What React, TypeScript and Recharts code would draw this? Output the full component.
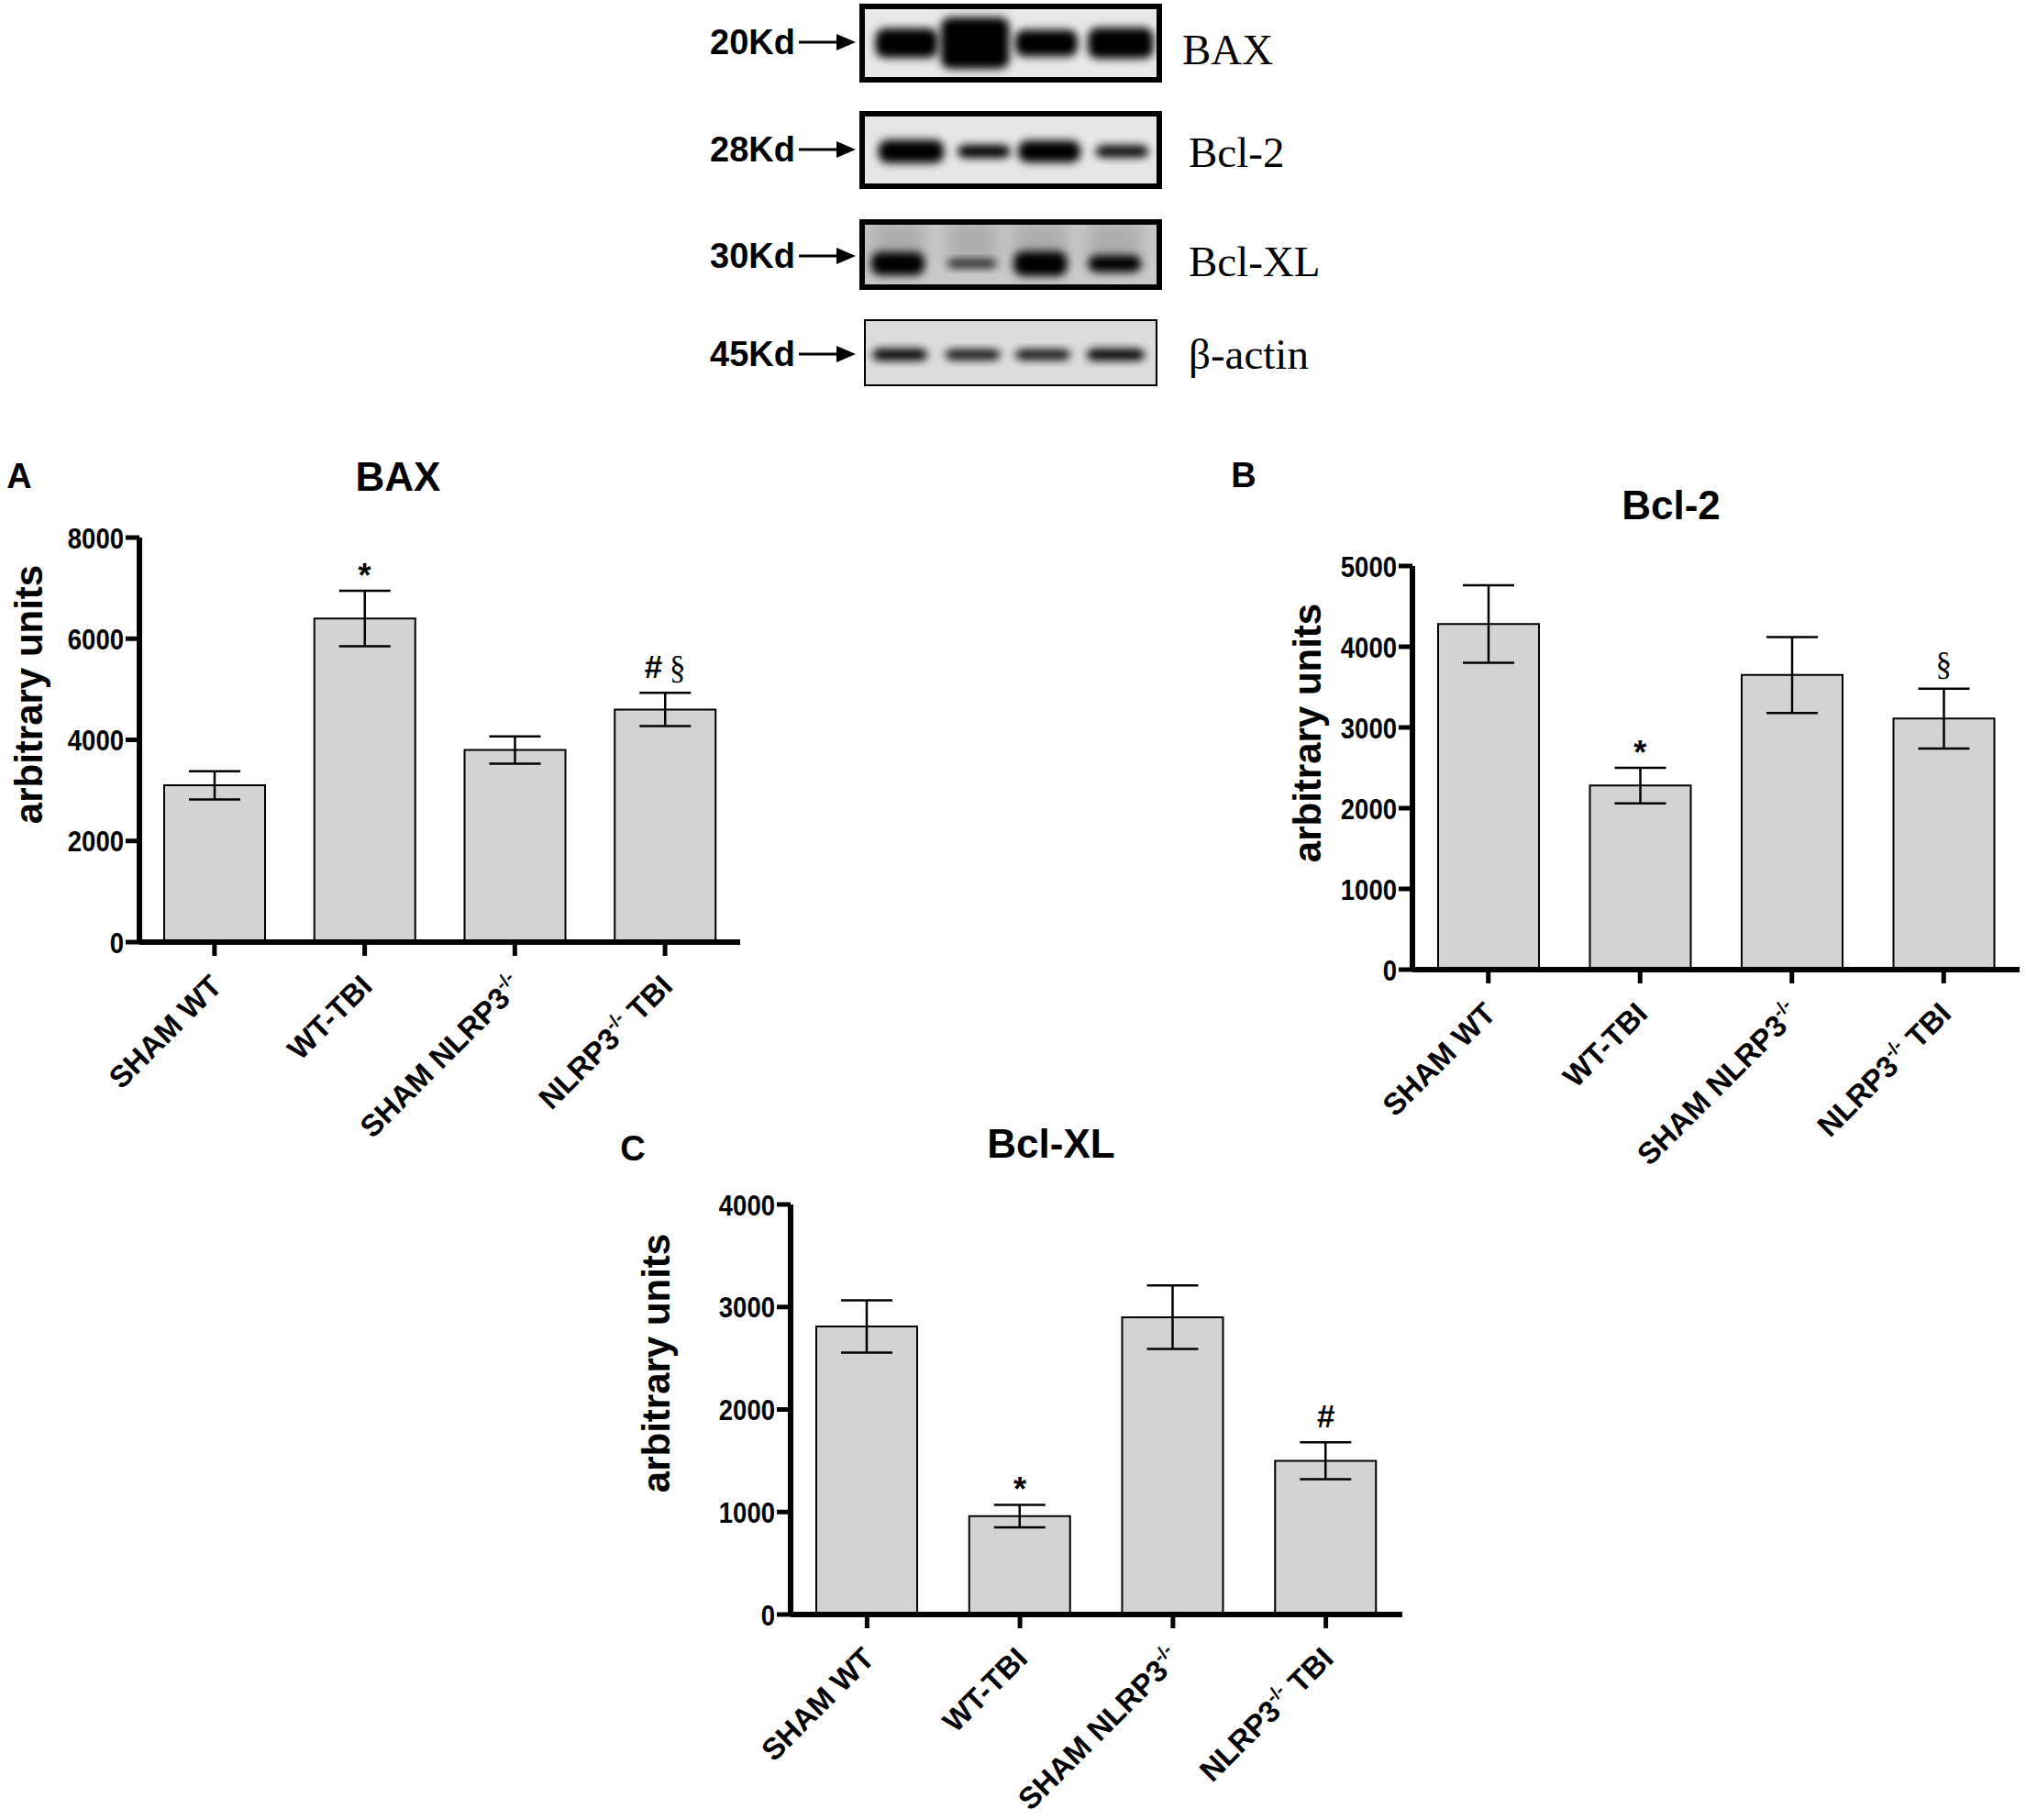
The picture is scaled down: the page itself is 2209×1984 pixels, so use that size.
import React from 'react'
import { ComposedChart, Bar, ErrorBar, Scatter, XAxis, YAxis } from 'recharts'

const groups = ['SHAM WT', 'WT-TBI', 'SHAM NLRP3-/-', 'NLRP3-/- TBI']

const baxMean = [3100, 6400, 3800, 4600]
const baxSem = [280, 550, 270, 330]
const baxMarks = ['', '*', '', '#§']
const baxTicks = [0, 2000, 4000, 6000, 8000]

const bcl2Mean = [4280, 2280, 3650, 3110]
const bcl2Sem = [480, 220, 470, 370]
const bcl2Marks = ['', '*', '', '§']
const bcl2Ticks = [0, 1000, 2000, 3000, 4000, 5000]

const bclxlMean = [2810, 960, 2900, 1500]
const bclxlSem = [255, 110, 310, 180]
const bclxlMarks = ['', '*', '', '#']
const bclxlTicks = [0, 1000, 2000, 3000, 4000]

const blotNames = ['BAX', 'Bcl-2', 'Bcl-XL', 'β-actin']
const blotSizes = ['20Kd', '28Kd', '30Kd', '45Kd']

const SANS = '"Liberation Sans", Arial, sans-serif'
const SERIF = '"Liberation Serif", "Times New Roman", serif'

// western blot strips (not chart data, just the picture above the charts)
const blotRows = [
  { y: 7, h: 80, x: 940, w: 324, border: 6, bg: '#e8e8e8', by: 0.5,
    bands: [[0.15, 0.21, 0.4, 1], [0.38, 0.23, 0.7, 1], [0.62, 0.21, 0.36, 1], [0.87, 0.22, 0.42, 1]] },
  { y: 124, h: 79, x: 940, w: 324, border: 6, bg: '#e6e6e6', by: 0.52,
    bands: [[0.165, 0.22, 0.32, 1], [0.41, 0.18, 0.18, 1], [0.63, 0.21, 0.3, 1], [0.875, 0.18, 0.17, 0.95]] },
  { y: 242, h: 71, x: 940, w: 324, border: 6, bg: '#c9c9c9', by: 0.64,
    bands: [[0.12, 0.18, 0.36, 1], [0.37, 0.17, 0.13, 0.85], [0.6, 0.18, 0.38, 1], [0.85, 0.18, 0.26, 1]] },
  { y: 349, h: 71, x: 943, w: 318, border: 2, bg: '#dcdcdc', by: 0.53,
    bands: [[0.12, 0.19, 0.18, 1], [0.37, 0.19, 0.16, 0.95], [0.61, 0.19, 0.16, 0.95], [0.86, 0.2, 0.18, 1]] },
]
const blotTextY = [54, 166, 285, 386]
const kdY = [46, 163, 279, 386]

function Blot() {
  return (
    <svg width={2209} height={440} style={{ position: 'absolute', left: 0, top: 0 }}>
      <defs>
        <filter id="blur" x="-30%" y="-60%" width="160%" height="220%">
          <feGaussianBlur stdDeviation="5" />
        </filter>
        <filter id="blur2" x="-30%" y="-60%" width="160%" height="220%">
          <feGaussianBlur stdDeviation="9" />
        </filter>
        {blotRows.map((r, i) => (
          <clipPath key={i} id={`clip${i}`}>
            <rect x={r.x} y={r.y} width={r.w} height={r.h} />
          </clipPath>
        ))}
      </defs>
      {blotRows.map((r, i) => (
        <g key={i}>
          <g clipPath={`url(#clip${i})`}>
            <rect x={r.x} y={r.y} width={r.w} height={r.h} fill={r.bg} />
            {i === 2 &&
              r.bands.map((b, j) => (
                <rect key={'s' + j} x={r.x + (b[0] - b[1] / 2) * r.w} y={r.y} width={b[1] * r.w} height={r.h * 0.6}
                  fill="#9a9a9a" opacity={0.6} filter="url(#blur2)" />
              ))}
            {r.bands.map((b, j) => (
              <rect key={j} x={r.x + (b[0] - b[1] / 2) * r.w} y={r.y + r.h * r.by - (b[2] * r.h) / 2}
                width={b[1] * r.w} height={b[2] * r.h} rx={10} fill="#000" opacity={b[3]} filter="url(#blur)" />
            ))}
          </g>
          <rect x={r.x} y={r.y} width={r.w} height={r.h} fill="none" stroke="#000" strokeWidth={r.border} />
          <text x={867} y={kdY[i]} dominantBaseline="central" textAnchor="end" fontFamily={SANS} fontWeight="bold" fontSize={38}>
            {blotSizes[i]}
          </text>
          <line x1={871} y1={kdY[i]} x2={915} y2={kdY[i]} stroke="#000" strokeWidth={3} />
          <polygon points={`${912},${kdY[i] - 9} ${933},${kdY[i]} ${912},${kdY[i] + 9}`} fill="#000" />
          <text x={i === 0 ? 1289 : 1296} y={blotTextY[i]} dominantBaseline="central" fontFamily={SERIF} fontSize={47}>
            {blotNames[i]}
          </text>
        </g>
      ))}
    </svg>
  )
}

function GroupTick({ x, y, payload }: any) {
  const label: string = payload.value
  const k = label.indexOf('-/-')
  const before = k >= 0 ? label.slice(0, k) : label
  const after = k >= 0 ? label.slice(k + 3) : ''
  return (
    <g transform={`translate(${x + 10},${y + 33})`}>
      <text transform="rotate(-45)" textAnchor="end" fontFamily={SANS} fontWeight="bold" fontSize={33} fill="#000">
        {before}
        {k >= 0 && (
          <tspan dy={-14} fontSize={20}>
            -/-
          </tspan>
        )}
        {after && <tspan dy={14}>{after}</tspan>}
      </text>
    </g>
  )
}

// Prism-style condensed tick numbers
function ValueTick({ x, y, payload }: any) {
  return (
    <text
      x={x}
      y={y}
      dy="0.36em"
      textAnchor="end"
      transform={`translate(${x},0) scale(0.86,1) translate(${-x},0)`}
      fontFamily={SANS}
      fontWeight="bold"
      fontSize={32}
      fill="#000"
    >
      {payload.value}
    </text>
  )
}

function MarkShape({ cx, cy, payload }: any) {
  const mark: string = payload.mark
  if (!mark) return <g />
  const star = mark === '*'
  return (
    <text x={cx} y={cy - (star ? 4 : 16)} textAnchor="middle" fontSize={star ? 36 : 35} fill="#000">
      {mark.split('').map((c, i) => (
        <tspan key={i} fontFamily={c === '§' ? SERIF : SANS} fontWeight={c === '§' ? 'normal' : 'bold'} dx={i > 0 ? 8 : 0}>
          {c}
        </tspan>
      ))}
    </text>
  )
}

function Panel({ left, top, width, height, margin, yWidth, means, sems, marks, ticks }: any) {
  const data = groups.map((name, i) => ({
    name,
    mean: means[i],
    sem: sems[i],
    top: means[i] + sems[i],
    mark: marks[i],
  }))
  return (
    <div style={{ position: 'absolute', left, top }}>
      <ComposedChart width={width} height={height} data={data} margin={margin} style={{ overflow: 'visible' }}>
        <XAxis
          dataKey="name"
          height={200}
          interval={0}
          tick={<GroupTick />}
          tickSize={15}
          axisLine={{ stroke: '#000', strokeWidth: 6 }}
          tickLine={{ stroke: '#000', strokeWidth: 5 }}
        />
        <YAxis
          width={yWidth}
          domain={[ticks[0], ticks[ticks.length - 1]]}
          ticks={ticks}
          interval={0}
          tickSize={15}
          tickMargin={2}
          axisLine={{ stroke: '#000', strokeWidth: 6 }}
          tickLine={{ stroke: '#000', strokeWidth: 5 }}
          tick={<ValueTick />}
        />
        <Bar dataKey="mean" fill="#d3d3d3" stroke="#000" strokeWidth={2} barSize={110} isAnimationActive={false}>
          <ErrorBar dataKey="sem" width={28} stroke="#000" strokeWidth={2.5} direction="y" isAnimationActive={false} />
        </Bar>
        <Scatter dataKey="top" isAnimationActive={false} shape={(p: any) => <MarkShape {...p} />} />
      </ComposedChart>
    </div>
  )
}

function Txt({ x, y, size, rotate = 0, children }: any) {
  return (
    <div
      style={{
        position: 'absolute',
        left: x,
        top: y,
        transform: `translate(-50%, -50%) rotate(${rotate}deg)`,
        fontFamily: SANS,
        fontWeight: 'bold',
        fontSize: size,
        lineHeight: 1,
        whiteSpace: 'nowrap',
        color: '#000',
      }}
    >
      {children}
    </div>
  )
}

export default function App() {
  return (
    <div style={{ position: 'absolute', left: 0, top: 0, width: 2209, height: 1984, background: '#fff', overflow: 'hidden' }}>
      <Blot />

      <Txt x={21} y={519} size={38}>A</Txt>
      <Txt x={434} y={520} size={44}>BAX</Txt>
      <Txt x={32} y={757} size={42} rotate={-90}>arbitrary units</Txt>
      <Panel left={0} top={560} width={840} height={700} margin={{ top: 26, right: 33, left: 0, bottom: 33 }}
        yWidth={152} means={baxMean} sems={baxSem} marks={baxMarks} ticks={baxTicks} />

      <Txt x={1356} y={518} size={38}>B</Txt>
      <Txt x={1822} y={551} size={44}>Bcl-2</Txt>
      <Txt x={1426} y={799} size={42} rotate={-90}>arbitrary units</Txt>
      <Panel left={1380} top={590} width={829} height={700} margin={{ top: 27, right: 7, left: 0, bottom: 33 }}
        yWidth={160} means={bcl2Mean} sems={bcl2Sem} marks={bcl2Marks} ticks={bcl2Ticks} />

      <Txt x={690} y={1252} size={38}>C</Txt>
      <Txt x={1146} y={1247} size={44}>Bcl-XL</Txt>
      <Txt x={716} y={1486} size={42} rotate={-90}>arbitrary units</Txt>
      <Panel left={700} top={1290} width={860} height={694} margin={{ top: 23, right: 31, left: 0, bottom: 24 }}
        yWidth={162} means={bclxlMean} sems={bclxlSem} marks={bclxlMarks} ticks={bclxlTicks} />
    </div>
  )
}
